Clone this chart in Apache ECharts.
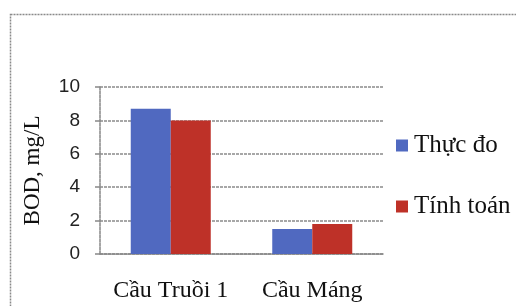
<!DOCTYPE html>
<html>
<head>
<meta charset="utf-8">
<script src="https://cdn.jsdelivr.net/npm/echarts@6/dist/echarts.min.js"></script>
<style>html,body{margin:0;padding:0;background:#fff;}#c{width:516px;height:306px;}</style>
</head>
<body>
<div id="c"></div>
<script>
const categories = ['Cầu Truồi 1', 'Cầu Máng'];
const seriesNames = ['Thực đo', 'Tính toán'];
const measured = [8.7, 1.5];
const computed = [8.0, 1.8];
const yTicks = [0, 2, 4, 6, 8, 10];
const yAxisName = 'BOD, mg/L';

const chart = echarts.init(document.getElementById('c'), null, {renderer: 'canvas'});
const serif = '"Liberation Serif", "Times New Roman", serif';
chart.setOption({
  animation: false,
  backgroundColor: '#fff',
  graphic: [{
    type: 'rect', left: 8, top: 12, silent: true, z: -1,
    shape: {width: 520, height: 310},
    style: {fill: 'none', stroke: '#8a8a8a', lineWidth: 1.5, lineDash: [2, 1]}
  }],
  grid: {left: 100, right: 133, top: 87, bottom: 52, containLabel: false},
  legend: {
    orient: 'vertical', left: 391, top: 128,
    itemWidth: 12, itemHeight: 12, itemGap: 36,
    icon: 'rect',
    textStyle: {fontFamily: serif, fontSize: 25, color: '#111', padding: [0, 0, 0, 1]},
    data: seriesNames
  },
  xAxis: {
    type: 'category', data: categories,
    axisLine: {show: true, lineStyle: {color: '#888', type: [3, 1], width: 1.5}},
    axisTick: {show: false},
    axisLabel: {fontFamily: serif, fontSize: 24, color: '#111', margin: 25, interval: 0}
  },
  yAxis: {
    type: 'value', min: yTicks[0], max: yTicks[yTicks.length - 1], interval: 2,
    name: yAxisName, nameLocation: 'middle', nameGap: 56, nameRotate: 90,
    nameTextStyle: {fontFamily: serif, fontSize: 23, color: '#111'},
    axisLine: {show: true, lineStyle: {color: '#888', type: [3, 1], width: 1.5}},
    axisTick: {show: true, length: 5, lineStyle: {color: '#888', width: 1.5}},
    axisLabel: {fontFamily: '"Liberation Sans", Arial, sans-serif', fontSize: 19, color: '#222', margin: 20},
    splitLine: {show: true, lineStyle: {color: '#8a8a8a', type: [3, 1], width: 1.5}}
  },
  series: [
    {name: seriesNames[0], type: 'bar', data: measured, barWidth: 40, barGap: '0%',
     itemStyle: {color: '#5069c0'}},
    {name: seriesNames[1], type: 'bar', data: computed, barWidth: 40, barGap: '0%',
     itemStyle: {color: '#be3128'}}
  ]
});
</script>
</body>
</html>
